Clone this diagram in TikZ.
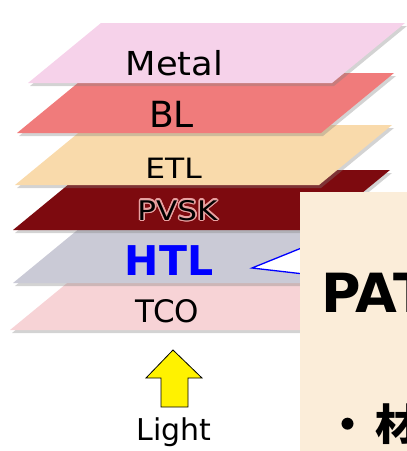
\documentclass[tikz,border=0pt]{standalone}
\usepackage{fontspec}
\setmainfont{DejaVu Sans}
\newfontfamily\jpfont{Noto Sans CJK JP}
\usepackage{contour}
\usetikzlibrary{shadows}

\definecolor{metalpink}{HTML}{F6D2EA}
\definecolor{blred}{HTML}{F07B7B}
\definecolor{etlsand}{HTML}{F9DAAB}
\definecolor{pvskred}{HTML}{7D0A0F}
\definecolor{pvskglow}{HTML}{E9A3A3}
\definecolor{htlgray}{HTML}{CACAD6}
\definecolor{tcopink}{HTML}{F7D3D6}
\definecolor{notebg}{HTML}{FBEDD9}

\newcommand\fs[1]{\fontsize{#1}{#1}\selectfont}

\tikzset{
  layer/.style={drop shadow={shadow xshift=2pt,shadow yshift=-3pt,opacity=.35}},
  lbl/.style={anchor=base,inner sep=0pt},
  notebox/.style={fill=notebg,anchor=north west,minimum width=130pt,minimum height=280pt,inner sep=0pt}
}

\begin{document}
\begin{tikzpicture}[x=1pt,y=-1pt]
  \useasboundingbox (0,0) rectangle (407,451);
  \clip (0,0) rectangle (407,451);

  % stack of layers, bottom one first
  \foreach \yb/\xl/\col in {330/10/tcopink, 283/13/htlgray, 230/13/pvskred,
                            185/15/etlsand, 133/17/blred, 83/28/metalpink} {
    \fill[layer,fill=\col] (\xl,\yb) -- ++(304,0) -- ++(73,-60) -- ++(-304,0) -- cycle;
  }

  \node[lbl,font=\fs{33},xscale=1.07] (metal) at (174.5,75) {Metal};
  \node[lbl,font=\fs{36}] (bl) at (171.5,127) {BL};
  \node[lbl,font=\fs{28},xscale=1.12] (etl) at (173.5,178) {ETL};
  \contourlength{1.3pt}
  \node[lbl,font=\fs{27},xscale=1.15] (pvsk) at (177.5,220) {\contour{pvskglow}{PVSK}};
  \node[lbl,font=\fs{41}\bfseries,text=blue] (htl) at (169,275) {HTL};
  \node[lbl,font=\fs{31}] (tco) at (167.5,322) {TCO};

  % light coming in from below
  \filldraw[fill=yellow,draw=black,line width=0.8pt,line join=miter]
    (173,350) -- (202,378) -- (188,378) -- (188,407) -- (161,407) -- (161,378) -- (146,378) -- cycle;
  \node[lbl,font=\fs{30}] (light) at (174,440) {Light};

  % callout to the note
  \coordinate (tip) at (252,268);
  \filldraw[fill=white,draw=blue,line width=1.3pt] (tip) -- (304,247) -- (304,274) -- cycle;

  \node[notebox] (note) at (300,192) {};
  \node[anchor=base west,inner sep=0pt,font=\bfseries\fs{54}] (pat) at (321,312) {PAT};
  \node[anchor=base west,inner sep=0pt,font=\jpfont\bfseries\fs{43}] (mat) at (326.5,440) {・\kern6pt 材};
\end{tikzpicture}
\end{document}
